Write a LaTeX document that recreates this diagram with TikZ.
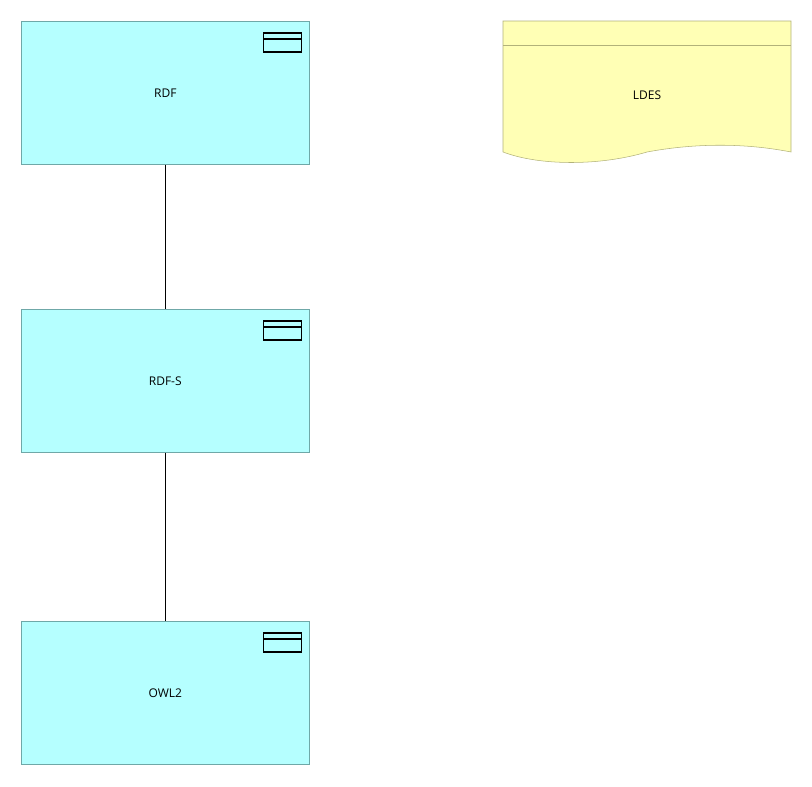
\documentclass[tikz,border=0pt]{standalone}
\usepackage{fontspec}
\setmainfont{Open Sans}
\usetikzlibrary{positioning}
\definecolor{appfill}{HTML}{B5FFFF}
\definecolor{appdraw}{HTML}{6FA8A8}
\definecolor{docfill}{HTML}{FFFFB5}
\definecolor{docdraw}{HTML}{B2B27A}
\tikzset{
  comp/.style={draw=appdraw, fill=appfill, minimum width=216pt, minimum height=107.25pt, inner sep=0pt, font=\small},
  link/.style={draw=black, line width=0.9pt}
}
\newcommand{\compicon}[1]{%
  \draw[line width=0.9pt] ([xshift=-34.5pt,yshift=-9pt]#1.north east) rectangle ([xshift=-6pt,yshift=-23.25pt]#1.north east);
  \draw[line width=0.9pt] ([xshift=-34.5pt,yshift=-13.5pt]#1.north east) -- ([xshift=-6pt,yshift=-13.5pt]#1.north east);}
\begin{document}
\begin{tikzpicture}[x=0.75pt,y=-0.75pt]
  \useasboundingbox (0,0) rectangle (812,786);
  \node[comp, anchor=north west] (rdf) at (21,21) {RDF};
  \node[comp, anchor=north west] (rdfs) at (21,309) {RDF-S};
  \node[comp, anchor=north west] (owl) at (21,621) {OWL2};
  \compicon{rdf}
  \compicon{rdfs}
  \compicon{owl}
  \draw[link] (rdf) -- (rdfs);
  \draw[link] (rdfs) -- (owl);
  % data object
  \draw[draw=docdraw, fill=docfill] (503,21) -- (791,21) -- (791,152)
    .. controls (740,142) and (690,144) .. (647,152)
    .. controls (600,166) and (540,166) .. (503,152) -- cycle;
  \draw[draw=docdraw] (503,45) -- (791,45);
  \node[font=\small] (ldes) at (647,95) {LDES};
\end{tikzpicture}
\end{document}
